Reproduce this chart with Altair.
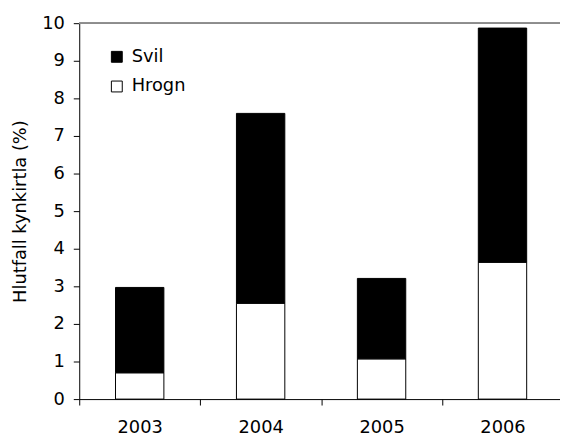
import altair as alt
import pandas as pd

years = ["2003", "2004", "2005", "2006"]
hrogn = [0.70, 2.55, 1.07, 3.64]
svil = [2.27, 5.05, 2.14, 6.23]

rows = []
for y, h, s in zip(years, hrogn, svil):
    rows.append({"year": y, "type": "Hrogn", "value": h, "ord": 0})
    rows.append({"year": y, "type": "Svil", "value": s, "ord": 1})
df = pd.DataFrame(rows)

FONT = "DejaVu Sans"
FS = 18

base = alt.Chart(df)

bars = base.mark_bar(
    width=alt.RelativeBandSize(0.4), stroke="black", strokeWidth=1
).encode(
    x=alt.X(
        "year:N",
        title=None,
        scale=alt.Scale(paddingInner=0, paddingOuter=0, range=[0, 489]),
        axis=alt.Axis(
            labelAngle=0,
            tickBand="extent",
            tickSize=6,
            labelPadding=14,
            domainColor="black",
            tickColor="black",
            labelFontSize=FS,
            labelFont=FONT,
            labelColor="black",
        ),
    ),
    y=alt.Y(
        "value:Q",
        stack="zero",
        title="Hlutfall kynkirtla (%)",
        scale=alt.Scale(domain=[0, 10], nice=False),
        axis=alt.Axis(
            values=list(range(0, 11)),
            labelOverlap=False,
            tickSize=6,
            labelPadding=9,
            domainColor="black",
            tickColor="black",
            grid=False,
            labelFontSize=FS,
            labelFont=FONT,
            labelColor="black",
            titleFontSize=FS,
            titleFont=FONT,
            titleFontWeight="normal",
            titleColor="black",
            titlePadding=12,
        ),
    ),
    fill=alt.Fill(
        "type:N",
        scale=alt.Scale(domain=["Svil", "Hrogn"], range=["black", "white"]),
        legend=alt.Legend(
            title=None,
            orient="none",
            legendX=29,
            legendY=25,
            padding=0,
            symbolType="square",
            symbolSize=121,
            symbolStrokeColor="black",
            symbolStrokeWidth=1,
            labelFontSize=FS,
            labelFont=FONT,
            labelColor="black",
            labelOffset=6,
            rowPadding=12,
        ),
    ),
    order=alt.Order("ord:Q"),
)

top_line = base.mark_rule(color="#8c8c8c", strokeWidth=1).encode(
    y=alt.YDatum(10, axis=None)
)

chart = (
    alt.layer(bars, top_line)
    .resolve_axis(y="independent")
    .properties(
        width=486,
        height=380,
        autosize=alt.AutoSizeParams(type="none"),
        padding={"left": 72, "top": 13, "right": 0, "bottom": 39},
    )
    .configure_view(strokeWidth=0)
)

chart.save("out.html", embed_options={"renderer": "svg", "actions": False})
